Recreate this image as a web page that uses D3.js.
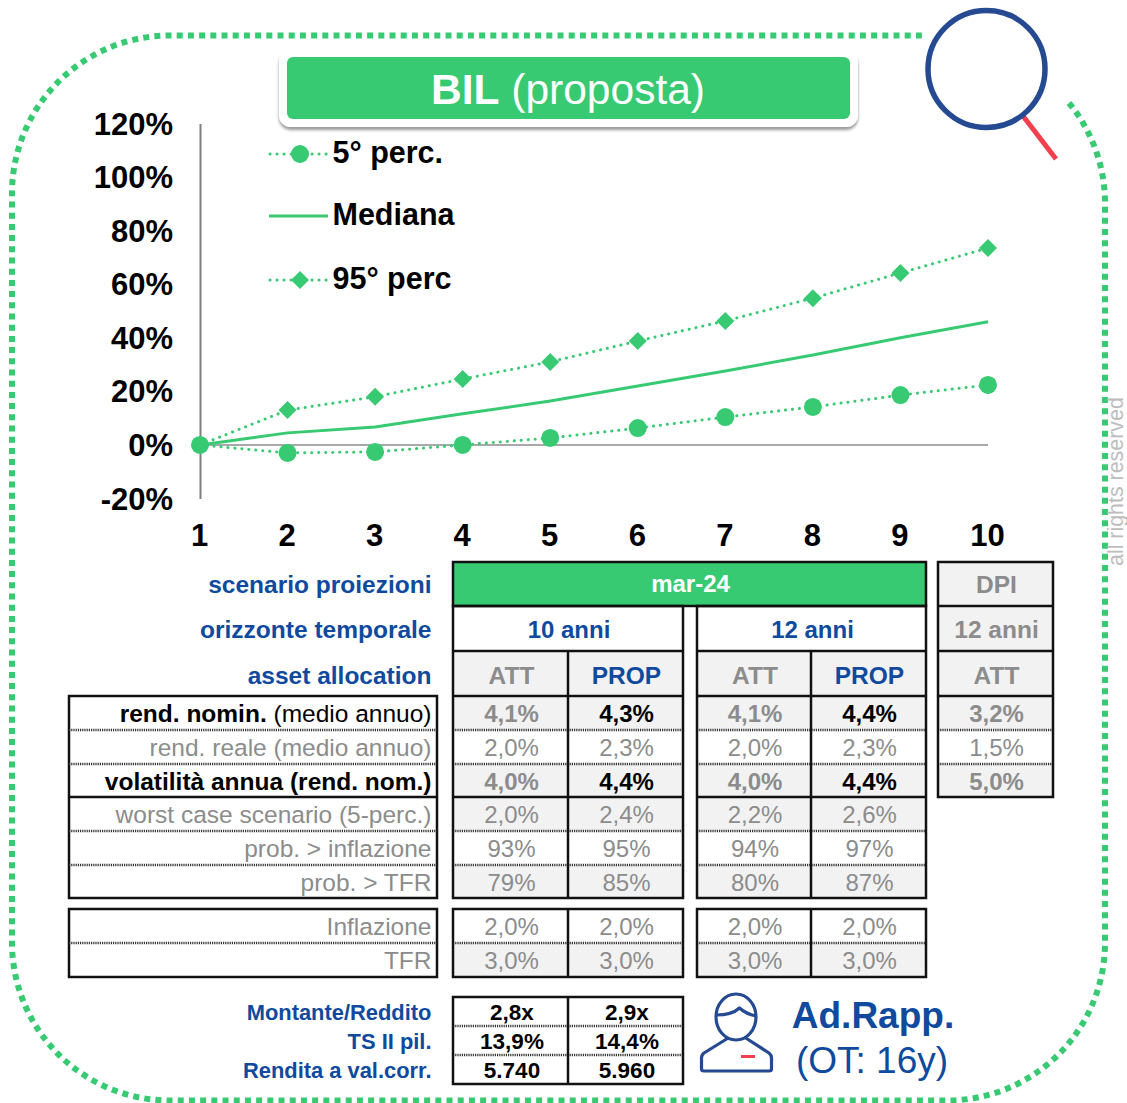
<!DOCTYPE html>
<html lang="it">
<head>
<meta charset="utf-8">
<title>BIL (proposta)</title>
<script src="https://cdn.jsdelivr.net/npm/d3@7/dist/d3.min.js"></script>
<style>
  html, body { margin: 0; padding: 0; background: #fff; }
  svg { display: block; font-family: "Liberation Sans", Arial, sans-serif; }
</style>
</head>
<body>
<svg id="chart" width="1127" height="1103"></svg>
<script>
// Projection years and percentile paths (% cumulative nominal return)
const years = [1, 2, 3, 4, 5, 6, 7, 8, 9, 10];
const perc5 = [0, -3, -2.6, 0, 2.6, 6.3, 10.4, 14.2, 18.6, 22.4];
const median = [0, 4.5, 6.7, 11.6, 16.4, 22, 27.6, 33.6, 40, 46];
const perc95 = [0, 13, 18, 24.6, 31, 38.8, 46.3, 54.8, 64.2, 73.5];
const yTicks = [-20, 0, 20, 40, 60, 80, 100, 120];

// Table text
const headLabels = ["scenario proiezioni", "orizzonte temporale", "asset allocation"];
const rowLabels = ["rend. reale (medio annuo)", "worst case scenario (5-perc.)", "prob. > inflazione", "prob. > TFR"];
const inflLabels = ["Inflazione", "TFR"];
const att10 = ["4,1%", "2,0%", "4,0%", "2,0%", "93%", "79%"];
const prop10 = ["4,3%", "2,3%", "4,4%", "2,4%", "95%", "85%"];
const att12 = ["4,1%", "2,0%", "4,0%", "2,2%", "94%", "80%"];
const prop12 = ["4,4%", "2,3%", "4,4%", "2,6%", "97%", "87%"];
const dpiAtt = ["3,2%", "1,5%", "5,0%"];
const inflTfr = ["2,0%", "3,0%"];
const pensionLabels = ["Montante/Reddito", "TS II pil.", "Rendita a val.corr."];
const pensionAtt = ["2,8x", "13,9%", "5.740"];
const pensionProp = ["2,9x", "14,4%", "5.960"];

const GREEN = "#37CA72", BLUE = "#0F4A9E", NAVY = "#264A92", RED = "#F2404E";
const GREY = "#8C8C8C", SHADE = "#F2F2F2", INK = "#000";

const svg = d3.select("#chart");
const defs = svg.append("defs");
const shadow = defs.append("filter").attr("id", "soft").attr("x", "-5%").attr("y", "-20%").attr("width", "110%").attr("height", "150%");
shadow.append("feDropShadow").attr("dx", 0).attr("dy", 3).attr("stdDeviation", 1.5).attr("flood-color", "#000").attr("flood-opacity", 0.4);

// Rounded dotted frame, open at the top right where the lens sits
const L = 12, T = 35.5, R = 1105, B = 1100.5, rad = 158;
svg.append("path")
  .attr("d", `M1069,103 A${rad},${rad} 0 0 1 ${R},205 V${B - rad} A${rad},${rad} 0 0 1 ${R - rad},${B} H${L + rad} A${rad},${rad} 0 0 1 ${L},${B - rad} V${T + rad} A${rad},${rad} 0 0 1 ${L + rad},${T} H925`)
  .attr("fill", "none").attr("stroke", GREEN).attr("stroke-width", 6).attr("stroke-dasharray", "6 5.2");

// Magnifier
svg.append("line").attr("x1", 1023).attr("y1", 116).attr("x2", 1056).attr("y2", 159).attr("stroke", RED).attr("stroke-width", 5);
svg.append("circle").attr("cx", 986.5).attr("cy", 69).attr("r", 58.5).attr("fill", "none").attr("stroke", NAVY).attr("stroke-width", 5.5);

// Title plate
svg.append("rect").attr("x", 279).attr("y", 50).attr("width", 579).attr("height", 77).attr("rx", 12).attr("fill", "#fff").attr("filter", "url(#soft)");
svg.append("rect").attr("x", 287).attr("y", 57).attr("width", 563).attr("height", 62).attr("rx", 6).attr("fill", GREEN);
const title = svg.append("text").attr("x", 568).attr("y", 104).attr("text-anchor", "middle").attr("fill", "#fff").attr("font-size", 42.5);
title.append("tspan").attr("font-weight", 700).text("BIL");
title.append("tspan").text(" (proposta)");

// Scales and axes
const x = d3.scalePoint().domain(years).range([200, 988]);
const y = d3.scaleLinear().domain([-20, 120]).range([498.5, 123.5]);

const yAxis = svg.append("g").attr("transform", `translate(${x(1)},0)`)
  .call(d3.axisLeft(y).tickValues(yTicks).tickSize(0).tickPadding(27).tickFormat(d => d + "%"));
yAxis.select(".domain").attr("stroke", "#7F7F7F").attr("stroke-width", 2);
yAxis.selectAll("text").attr("font-family", "inherit").attr("font-size", 31).attr("font-weight", 700).attr("fill", INK).attr("y", 0.6);

svg.append("line").attr("x1", x(1)).attr("x2", x(10)).attr("y1", y(0)).attr("y2", y(0)).attr("stroke", "#8C8C8C").attr("stroke-width", 1.5);

const xAxis = svg.append("g").attr("transform", `translate(-1,${y(-20)})`)
  .call(d3.axisBottom(x).tickSize(0).tickPadding(25));
xAxis.select(".domain").remove();
xAxis.selectAll("text").attr("font-family", "inherit").attr("font-size", 31).attr("font-weight", 700).attr("fill", INK);

// Percentile lines and markers
const line = d3.line().x((d, i) => x(years[i])).y(d => y(d));
const dotted = sel => sel.attr("fill", "none").attr("stroke", GREEN).attr("stroke-width", 3).attr("stroke-linecap", "round").attr("stroke-dasharray", "0.1 6.9");
svg.append("path").attr("d", line(perc95)).call(dotted);
svg.append("path").attr("d", line(perc5)).call(dotted);
svg.append("path").attr("d", line(median)).attr("fill", "none").attr("stroke", GREEN).attr("stroke-width", 3);

const diamond = r => `M0,${-r}L${r},0L0,${r}L${-r},0Z`;
svg.append("g").selectAll("path").data(perc95).join("path")
  .attr("transform", (d, i) => `translate(${x(years[i])},${y(d)})`)
  .attr("d", diamond(9)).attr("fill", GREEN);
svg.append("g").selectAll("circle").data(perc5).join("circle")
  .attr("cx", (d, i) => x(years[i])).attr("cy", d => y(d)).attr("r", 9).attr("fill", GREEN);

// Legend
const legendY = [154, 216, 280];
const legendText = ["5° perc.", "Mediana", "95° perc"];
svg.append("line").attr("x1", 270).attr("x2", 328).attr("y1", legendY[0]).attr("y2", legendY[0]).call(dotted);
svg.append("circle").attr("cx", 300).attr("cy", legendY[0]).attr("r", 9).attr("fill", GREEN);
svg.append("line").attr("x1", 269).attr("x2", 328).attr("y1", legendY[1]).attr("y2", legendY[1]).attr("stroke", GREEN).attr("stroke-width", 3);
svg.append("line").attr("x1", 270).attr("x2", 328).attr("y1", legendY[2]).attr("y2", legendY[2]).call(dotted);
svg.append("path").attr("transform", `translate(300,${legendY[2]})`).attr("d", diamond(9)).attr("fill", GREEN);
svg.append("g").selectAll("text").data(legendText).join("text")
  .attr("x", 332.5).attr("y", (d, i) => legendY[i] + 9)
  .attr("font-size", 30.5).attr("font-weight", 700).attr("fill", INK).text(d => d);

// Table helpers
const rowEdges = [696, 730, 764, 797, 831, 865, 898];
const shadedRow = [true, false, true, true, false, true];
const boldRow = [true, false, true, false, false, false];
const put = (px, py, str, opt = {}) => svg.append("text")
  .attr("x", px).attr("y", py)
  .attr("text-anchor", opt.anchor || "middle")
  .attr("font-size", opt.size || 24)
  .attr("font-weight", opt.bold ? 700 : 400)
  .attr("fill", opt.fill || GREY)
  .text(str);
const rule = (x1, y1, x2, y2, w = 2.5, col = "#111") => svg.append("line")
  .attr("x1", x1).attr("y1", y1).attr("x2", x2).attr("y2", y2)
  .attr("stroke", col).attr("stroke-width", w);
const dots = (x1, x2, yy) => rule(x1, yy, x2, yy, 2.5, "#333").attr("stroke-dasharray", "1.2 1");
const shade = (x1, y1, x2, y2) => svg.append("rect").attr("x", x1).attr("y", y1).attr("width", x2 - x1).attr("height", y2 - y1).attr("fill", SHADE);
const box = (x1, y1, x2, y2, w = 2.5, col = "#111") => svg.append("rect").attr("x", x1).attr("y", y1).attr("width", x2 - x1).attr("height", y2 - y1).attr("fill", "none").attr("stroke", col).attr("stroke-width", w);

const LABEL = 24.5;

// Row headings
const headBase = [592.5, 637.5, 683.5];
headLabels.forEach((s, i) => put(431.5, headBase[i], s, { anchor: "end", bold: true, fill: BLUE, size: LABEL }));

// Description column
box(69, 696, 437, 898);
[730, 764].forEach(e => dots(69, 437, e));
[831, 865].forEach(e => dots(69, 437, e));
rule(69, 797, 437, 797);
const rowBase = rowEdges.slice(0, -1).map(e => e + 26);
const nominal = put(431.5, rowBase[0], "", { anchor: "end", fill: INK, size: LABEL });
nominal.append("tspan").attr("font-weight", 700).text("rend. nomin.");
nominal.append("tspan").text(" (medio annuo)");
put(431.5, rowBase[1], rowLabels[0], { anchor: "end", size: LABEL });
put(431.5, rowBase[2], "volatilità annua (rend. nom.)", { anchor: "end", bold: true, fill: INK, size: LABEL });
put(431.5, rowBase[3], rowLabels[1], { anchor: "end", size: LABEL });
put(431.5, rowBase[4], rowLabels[2], { anchor: "end", size: LABEL });
put(431.5, rowBase[5], rowLabels[3], { anchor: "end", size: LABEL });

// Inflation / TFR description
box(69, 909, 437, 977);
dots(69, 437, 943);
inflLabels.forEach((s, i) => put(431.5, 935 + i * 34, s, { anchor: "end", size: LABEL }));

// Scenario header
svg.append("rect").attr("x", 453).attr("y", 562).attr("width", 473).attr("height", 44).attr("fill", GREEN);
box(453, 562, 926, 606);
put(690.5, 592, "mar-24", { bold: true, fill: "#fff" });

// A horizon block: two allocation columns with their statistics
function horizonBlock(x0, x1, x2, label, attVals, propVals) {
  const xa = (x0 + x1) / 2 + 1, xb = (x1 + x2) / 2 + 1;
  put((x0 + x2) / 2 + 1, 637.5, label, { bold: true, fill: BLUE });
  shade(x0, 651, x2, 696);
  put(xa, 683.5, "ATT", { bold: true, size: LABEL });
  put(xb, 683.5, "PROP", { bold: true, fill: BLUE, size: LABEL });
  shadedRow.forEach((on, i) => { if (on) shade(x0, rowEdges[i], x2, rowEdges[i + 1]); });
  attVals.forEach((v, i) => put(xa, rowBase[i], v, { bold: boldRow[i] }));
  propVals.forEach((v, i) => put(xb, rowBase[i], v, { bold: boldRow[i], fill: boldRow[i] ? INK : GREY }));
  [730, 764, 831, 865].forEach(e => dots(x0, x2, e));
  [651, 696, 797].forEach(e => rule(x0, e, x2, e));
  box(x0, 606, x2, 898);
  rule(x1, 651, x1, 898);
  // Inflation and TFR assumptions
  shade(x0, 943, x2, 977);
  inflTfr.forEach((v, i) => { put(xa, 935 + i * 34, v); put(xb, 935 + i * 34, v); });
  dots(x0, x2, 943);
  box(x0, 909, x2, 977);
  rule(x1, 909, x1, 977);
}
horizonBlock(453, 568, 683, "10 anni", att10, prop10);
horizonBlock(697, 811, 926, "12 anni", att12, prop12);

// DPI comparison column
const dx0 = 938, dx1 = 1053, dxm = (dx0 + dx1) / 2 + 1;
shade(dx0, 562, dx1, 696);
shade(dx0, 696, dx1, 730);
shade(dx0, 764, dx1, 797);
put(dxm, 592.5, "DPI", { bold: true, size: LABEL });
put(dxm, 637.5, "12 anni", { bold: true, size: LABEL });
put(dxm, 683.5, "ATT", { bold: true, size: LABEL });
dpiAtt.forEach((v, i) => put(dxm, rowBase[i], v, { bold: i !== 1 }));
[606, 651, 696].forEach(e => rule(dx0, e, dx1, e));
[730, 764].forEach(e => dots(dx0, dx1, e));
box(dx0, 562, dx1, 797);

// Pension figures
const penBase = [1020, 1049, 1078];
pensionLabels.forEach((s, i) => put(431.5, penBase[i], s, { anchor: "end", bold: true, fill: BLUE, size: 21.9 }));
pensionAtt.forEach((v, i) => put(512, penBase[i], v, { bold: true, fill: INK, size: 22.5 }));
pensionProp.forEach((v, i) => put(627, penBase[i], v, { bold: true, fill: INK, size: 22.5 }));
[1026, 1055].forEach(e => dots(453, 683, e));
box(453, 997, 683, 1084);
rule(568, 997, 568, 1084);

// Adviser icon
const icon = svg.append("g").attr("fill", "none").attr("stroke", NAVY).attr("stroke-width", 3.2).attr("stroke-linejoin", "round");
icon.append("ellipse").attr("cx", 736).attr("cy", 1017).attr("rx", 20).attr("ry", 23);
icon.append("path").attr("d", "M716,1015 Q732,1015 739.5,1008 Q746,1014 756,1016");
icon.append("path").attr("d", "M729,1037.5 L704,1053 Q701.5,1055 701.5,1058 V1069 Q701.5,1071 704,1071 H769 Q771.5,1071 771.5,1069 V1058 Q771.5,1055 769,1053 L745,1037.5");
svg.append("rect").attr("x", 741).attr("y", 1055).attr("width", 14).attr("height", 3).attr("fill", RED);

put(873, 1028, "Ad.Rapp.", { bold: true, fill: BLUE, size: 37 });
put(872, 1073, "(OT: 16y)", { fill: BLUE, size: 37 });

// Vertical notice on the right edge
svg.append("text").attr("transform", "translate(1122.5,566) rotate(-90)")
  .attr("font-size", 21.4).attr("fill", "#BDBDBD").text("all rights reserved");
</script>
</body>
</html>
